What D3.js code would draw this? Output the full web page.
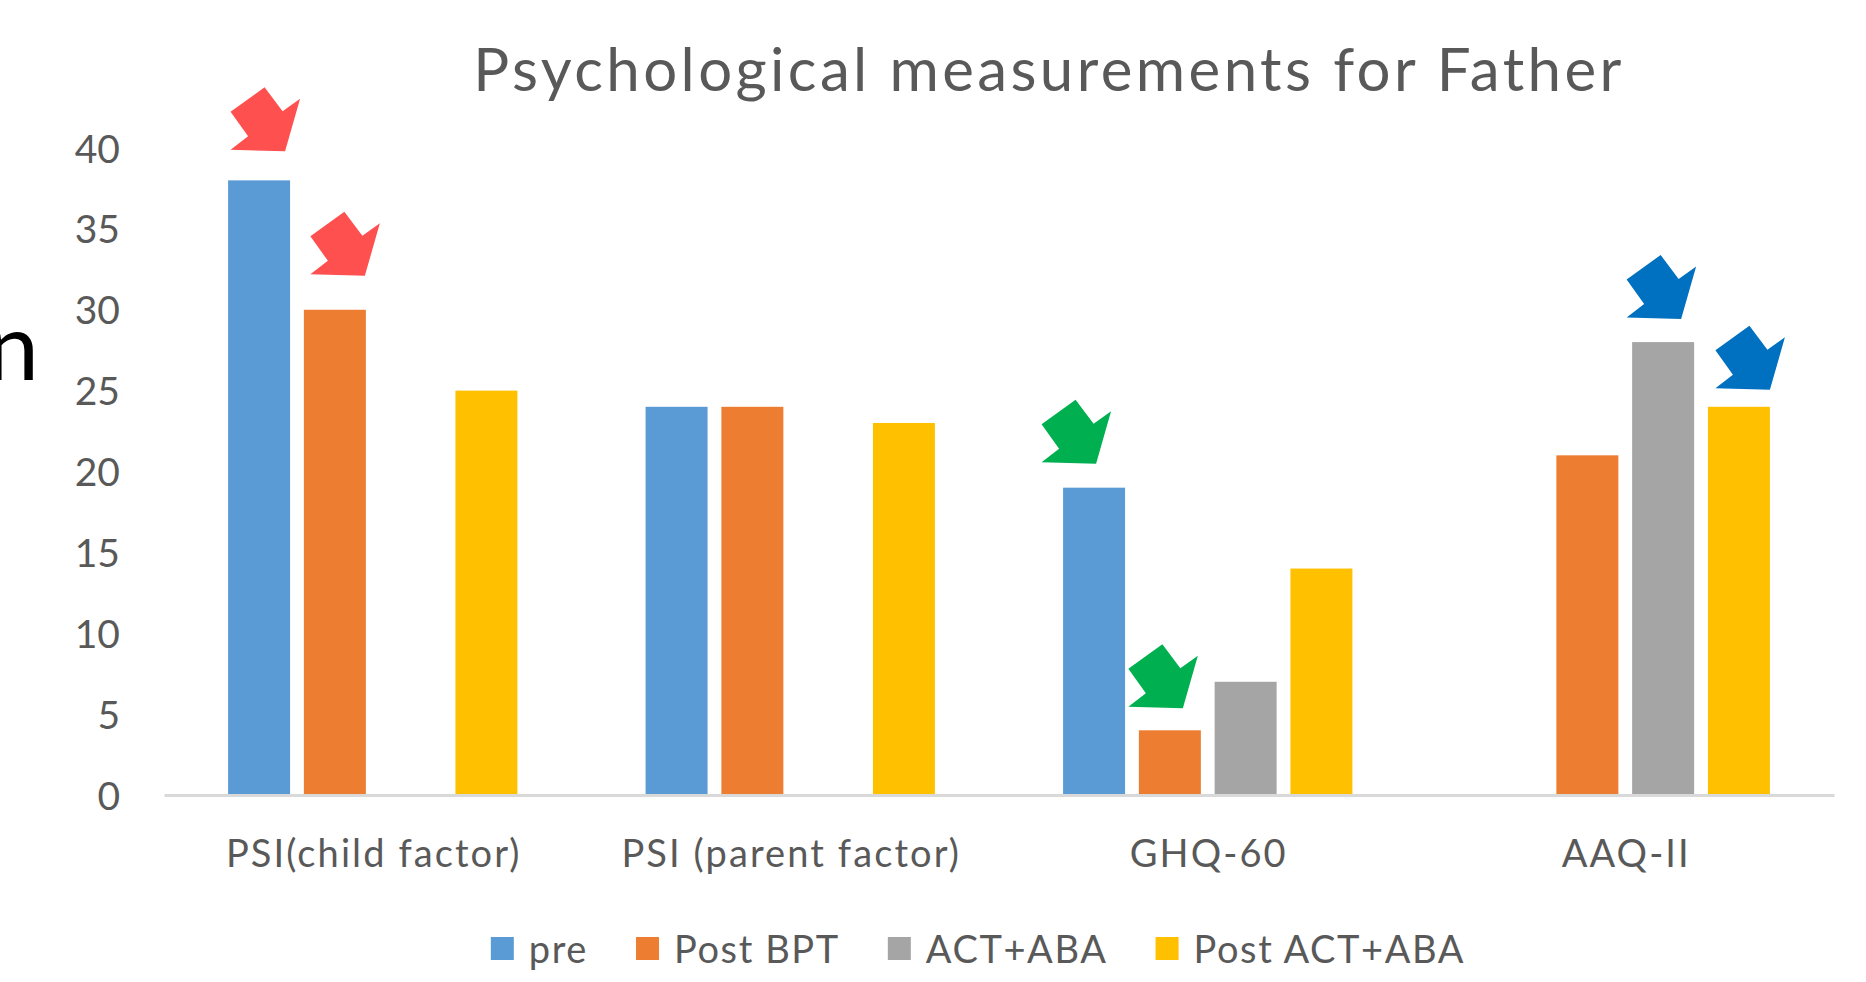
<!DOCTYPE html>
<html>
<head>
<meta charset="utf-8">
<script src="https://cdn.jsdelivr.net/npm/d3@7"></script>
<style>
  body { margin: 0; background: #fff; }
  svg { display: block; font-family: Lato, "Open Sans", sans-serif; }
</style>
</head>
<body>
<svg id="chart" width="1866" height="982"></svg>
<script>
/*Chart data*/
var categories = ["PSI(child factor)", "PSI (parent factor)", "GHQ-60", "AAQ-II"];
var seriesNames = ["pre", "Post BPT", "ACT+ABA", "Post ACT+ABA"];
var preValues = [38, 24, 19, null];
var postBptValues = [30, 24, 4, 21];
var actAbaValues = [null, null, 7, 28];
var postActAbaValues = [25, 23, 14, 24];
var yTicks = [0, 5, 10, 15, 20, 25, 30, 35, 40];

var seriesValues = [preValues, postBptValues, actAbaValues, postActAbaValues];
var seriesColors = ["#5B9BD5", "#ED7D31", "#A5A5A5", "#FFC000"];

/*Arrow call-outs: which bar they point at, and how far off its top right corner*/
var arrowNotes = [
  {cat: 0, ser: 0, color: "#FF5050", dx: -5, dy: -29},
  {cat: 0, ser: 1, color: "#FF5050", dx: -1, dy: -34},
  {cat: 2, ser: 0, color: "#00B050", dx: -29, dy: -24},
  {cat: 2, ser: 1, color: "#00B050", dx: -18, dy: -22},
  {cat: 3, ser: 2, color: "#0070C0", dx: -13, dy: -23},
  {cat: 3, ser: 3, color: "#0070C0", dx: 0, dy: -17}
];
// block arrow outline, tip at 0,0
var arrowShape = [[-54.5, -39.5], [-20.5, -64], [-2.5, -40], [15, -52.5], [0, 0], [-54.5, -1.5], [-37, -15]];

var svg = d3.select("#chart");
var textColor = "#595959";

var x0 = d3.scaleBand()
    .domain(d3.range(categories.length))
    .range([164, 1834])
    .paddingInner(0.307)
    .paddingOuter(0.1535);

var x1 = d3.scaleBand()
    .domain(d3.range(seriesNames.length))
    .range([0, x0.bandwidth()])
    .paddingInner(0.182);

var y = d3.scaleLinear()
    .domain([0, 40])
    .range([795, 148]);

/*Title*/
svg.append("text")
    .attr("x", 1049)
    .attr("y", 91)
    .attr("text-anchor", "middle")
    .attr("fill", textColor)
    .style("font-size", "60px")
    .style("letter-spacing", "3.4px")
    .text("Psychological measurements for Father");

/*Stray letter from the slide behind the chart*/
svg.append("text")
    .attr("x", 39)
    .attr("y", 380)
    .attr("text-anchor", "end")
    .attr("fill", "#000")
    .style("font-size", "94px")
    .text("n");

/*Y axis labels*/
var yAxis = d3.axisLeft(y).tickValues(yTicks).tickSize(0).tickPadding(0);
var yAxisG = svg.append("g")
    .attr("transform", "translate(120,0)")
    .call(yAxis);
yAxisG.select(".domain").remove();
yAxisG.selectAll("text")
    .attr("fill", textColor)
    .attr("dy", "0.36em")
    .style("font-size", "39px")
    .style("font-family", "Lato, sans-serif");

/*Bars*/
var groups = svg.append("g").selectAll("g")
    .data(categories)
    .enter().append("g")
    .attr("transform", function(d, i) { return "translate(" + x0(i) + ",0)"; });

groups.selectAll("rect")
    .data(function(d, i) {
      return seriesValues.map(function(vals, s) { return {ser: s, value: vals[i]}; })
        .filter(function(b) { return b.value !== null; });
    })
    .enter().append("rect")
    .attr("x", function(b) { return x1(b.ser); })
    .attr("y", function(b) { return y(b.value); })
    .attr("width", x1.bandwidth())
    .attr("height", function(b) { return y(0) - y(b.value); })
    .attr("fill", function(b) { return seriesColors[b.ser]; });

/*X axis line + category labels*/
var xAxis = d3.axisBottom(x0).tickSize(0).tickPadding(0)
    .tickFormat(function(i) { return categories[i]; });
var xAxisG = svg.append("g")
    .attr("transform", "translate(0," + y(0) + ")")
    .call(xAxis);
xAxisG.select(".domain")
    .attr("stroke", "#D9D9D9")
    .attr("stroke-width", 3);
xAxisG.selectAll("text")
    .attr("fill", textColor)
    .attr("y", 72)
    .attr("dy", 0)
    .attr("dx", 1)
    .style("font-size", "38px")
    .style("letter-spacing", "2.1px")
    .style("font-family", "Lato, sans-serif");

/*Arrows*/
svg.append("g").selectAll("polygon")
    .data(arrowNotes)
    .enter().append("polygon")
    .attr("points", arrowShape.map(function(p) { return p.join(","); }).join(" "))
    .attr("fill", function(d) { return d.color; })
    .attr("transform", function(d) {
      var val = seriesValues[d.ser][d.cat];
      var tipX = x0(d.cat) + x1(d.ser) + x1.bandwidth() + d.dx;
      var tipY = y(val) + d.dy;
      return "translate(" + tipX + "," + tipY + ")";
    });

/*Legend*/
var legend = svg.append("g");
var legendX = 0;
seriesNames.forEach(function(name, s) {
  var item = legend.append("g").attr("transform", "translate(" + legendX + ",0)");
  item.append("rect")
      .attr("x", 0).attr("y", -26)
      .attr("width", 23).attr("height", 23)
      .attr("fill", seriesColors[s]);
  var t = item.append("text")
      .attr("x", 38).attr("y", 0)
      .attr("fill", textColor)
      .style("font-size", "38px")
      .style("letter-spacing", "1.6px")
      .text(name);
  legendX += 38 + t.node().getComputedTextLength() + 48;
});
var legendWidth = legendX - 48;
legend.attr("transform", "translate(" + (978 - legendWidth / 2) + ",963)");
</script>
</body>
</html>
